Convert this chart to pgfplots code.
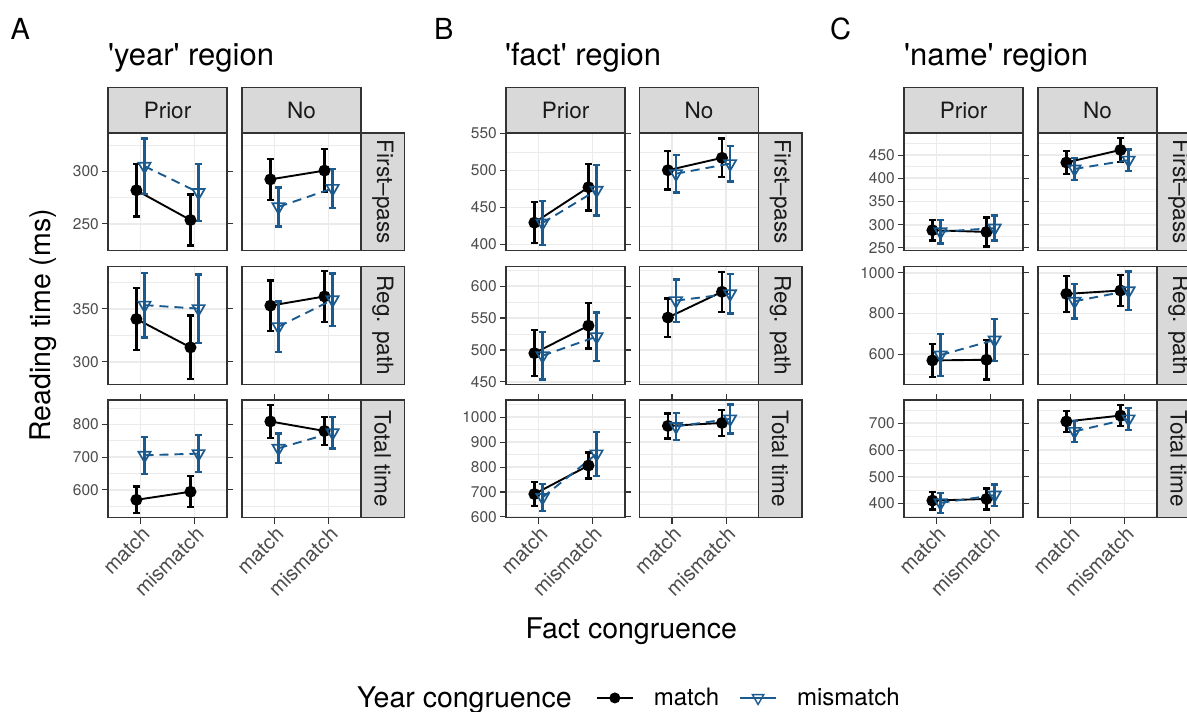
\documentclass[border=0pt]{standalone}
\usepackage{fontspec}
\setmainfont{TeX Gyre Heros}
\usepackage{pgfplots}
\pgfplotsset{compat=1.18}

\definecolor{gray10}{HTML}{1A1A1A}
\definecolor{gray20}{HTML}{333333}
\definecolor{gray30}{HTML}{4D4D4D}
\definecolor{gray85}{HTML}{D9D9D9}
\definecolor{gray92}{HTML}{EBEBEB}
\definecolor{mmblue}{HTML}{1A5A8E}

\newcommand\ytfont{\fontsize{15.5}{18}\selectfont}
\newcommand\xtfont{\fontsize{20.5}{24}\selectfont}
\newcommand\stripfont{\fontsize{22.5}{26}\selectfont}
\newcommand\axtfont{\fontsize{28.5}{33}\selectfont}
\newcommand\titfont{\fontsize{31}{36}\selectfont}
\newcommand\tagfont{\fontsize{29}{34}\selectfont}
\newcommand\legfont{\fontsize{24}{28}\selectfont}

\pgfplotsset{
  facet/.style={
    scale only axis, width=119pt, height=117.5pt, anchor=north west,
    xmin=0.4, xmax=2.6, xtick={1,2}, xmajorticks=false,
    axis line style={draw=gray20, line width=1.2pt},
    tick align=outside, major tick length=6pt, minor tick length=0pt,
    tick style={draw=gray20, line width=1.1pt},
    grid=both,
    major grid style={draw=gray92, line width=1.8pt},
    minor grid style={draw=gray92, line width=0.9pt},
    yticklabel style={font=\ytfont, text=gray30, inner sep=3pt},
    scaled y ticks=false,
    /pgf/number format/assume math mode=true,
    /pgf/number format/1000 sep={},
  },
  nolab/.style={ymajorticks=false},
  bottom/.style={xmajorticks=true, xticklabels={match,mismatch},
    xticklabel style={rotate=45, anchor=north east, font=\xtfont, text=gray30, inner sep=1pt}},
  matchser/.style={black, line width=1.9pt, solid, mark=*, mark size=5pt,
    mark options={solid, fill=black, line width=1.9pt},
    error bars/.cd, y dir=both, y explicit,
    error bar style={black, solid, line width=2.4pt},
    error mark options={rotate=90, black, solid, line width=2.4pt, mark size=3.5pt}},
  mmser/.style={mmblue, line width=1.9pt, dash pattern=on 9pt off 6pt, mark=triangle, mark size=7pt,
    mark options={solid, rotate=180, line width=1.7pt},
    error bars/.cd, y dir=both, y explicit,
    error bar style={mmblue, solid, line width=2.4pt},
    error mark options={rotate=90, mmblue, solid, line width=2.4pt, mark size=3.5pt}},
  matchleg/.style={black, line width=1.9pt, mark=*, mark size=4.5pt, mark options={fill=black}},
  mmleg/.style={mmblue, line width=1.9pt, mark=triangle, mark size=6.5pt, mark options={rotate=180, line width=1.4pt}},
  % y scales, one per region and measure
  A1/.style={ymin=224.6, ymax=336.8, ytick={250,300}, minor ytick={225,275,325}},
  A2/.style={ymin=278.8, ymax=389.8, ytick={300,350}, minor ytick={325,375}},
  A3/.style={ymin=514.8, ymax=874.8, ytick={600,700,800}, minor ytick={550,650,750,850}},
  B1/.style={ymin=392, ymax=550.8, ytick={400,450,500,550}, minor ytick={425,475,525}},
  B2/.style={ymin=446.4, ymax=630.3, ytick={450,500,550,600}, minor ytick={475,525,575,625}},
  B3/.style={ymin=597.6, ymax=1069.8, ytick={600,700,800,900,1000}, minor ytick={650,750,850,950,1050}},
  C1/.style={ymin=244.2, ymax=497.9, ytick={250,300,350,400,450}, minor ytick={275,325,375,425,475}},
  C2/.style={ymin=452.6, ymax=1029.5, ytick={600,800,1000}, minor ytick={500,700,900}},
  C3/.style={ymin=347.6, ymax=787.3, ytick={400,500,600,700}, minor ytick={350,450,550,650,750}},
}

% one facet: options, match series, mismatch series
\newcommand\facet[3]{%
  \begin{axis}[facet,#1]
    \addplot[matchser] coordinates {#2};
    \addplot[mmser] coordinates {#3};
  \end{axis}}

\begin{document}
\begin{tikzpicture}
\useasboundingbox (0pt,0pt) rectangle (1187pt,-712pt);

% ---- A: 'year' region
\facet{A1, at={(108pt,-133pt)}}
  {(0.925,282.1) +- (0,24.9) (1.925,253.7) +- (0,24.3)}
  {(1.075,305.1) +- (0,26.6) (2.075,280) +- (0,27)}
\facet{A1, nolab, at={(242pt,-133pt)}}
  {(0.925,292.5) +- (0,19.4) (1.925,300.9) +- (0,20.5)}
  {(1.075,266.3) +- (0,18.6) (2.075,283.9) +- (0,18.7)}
\facet{A2, at={(108pt,-266.7pt)}}
  {(0.925,340.4) +- (0,29.3) (1.925,313.6) +- (0,30)}
  {(1.075,353.5) +- (0,30.4) (2.075,350.2) +- (0,32.2)}
\facet{A2, nolab, at={(242pt,-266.7pt)}}
  {(0.925,353) +- (0,23.9) (1.925,361.7) +- (0,24.3)}
  {(1.075,333.2) +- (0,23.7) (2.075,358.6) +- (0,24.7)}
\facet{A3, bottom, at={(108pt,-400pt)}}
  {(0.925,569) +- (0,41) (1.925,593.8) +- (0,47.3)}
  {(1.075,705.5) +- (0,56.5) (2.075,710.5) +- (0,56.5)}
\facet{A3, bottom, nolab, at={(242pt,-400pt)}}
  {(0.925,809.1) +- (0,50.3) (1.925,779.9) +- (0,43.6)}
  {(1.075,727.1) +- (0,45.2) (2.075,774.7) +- (0,48.7)}

% ---- B: 'fact' region
\facet{B1, at={(506pt,-133pt)}}
  {(0.925,429.6) +- (0,27.6) (1.925,477.5) +- (0,31.5)}
  {(1.075,429.2) +- (0,29.5) (2.075,473.5) +- (0,34.1)}
\facet{B1, nolab, at={(639.5pt,-133pt)}}
  {(0.925,500.5) +- (0,26.3) (1.925,517.2) +- (0,26.2)}
  {(1.075,495.8) +- (0,25.2) (2.075,509.4) +- (0,24.1)}
\facet{B2, at={(506pt,-266.7pt)}}
  {(0.925,495) +- (0,36) (1.925,538) +- (0,35.8)}
  {(1.075,491) +- (0,37.4) (2.075,520.9) +- (0,37.9)}
\facet{B2, nolab, at={(639.5pt,-266.7pt)}}
  {(0.925,550.7) +- (0,30) (1.925,591) +- (0,31.4)}
  {(1.075,577.2) +- (0,33.2) (2.075,588) +- (0,30.8)}
\facet{B3, bottom, at={(506pt,-400pt)}}
  {(0.925,692) +- (0,48.4) (1.925,806.5) +- (0,52.5)}
  {(1.075,678) +- (0,55) (2.075,853.3) +- (0,88.8)}
\facet{B3, bottom, nolab, at={(639.5pt,-400pt)}}
  {(0.925,965.7) +- (0,50.3) (1.925,977.6) +- (0,51.8)}
  {(1.075,963.5) +- (0,55) (2.075,994) +- (0,58.5)}

% ---- C: 'name' region
\facet{C1, at={(904pt,-133pt)}}
  {(0.925,288) +- (0,22.5) (1.925,284.3) +- (0,31.2)}
  {(1.075,284.8) +- (0,25.8) (2.075,292.6) +- (0,27.2)}
\facet{C1, nolab, at={(1038pt,-133pt)}}
  {(0.925,434.2) +- (0,25) (1.925,461.3) +- (0,25.8)}
  {(1.075,420.3) +- (0,23.9) (2.075,439.3) +- (0,22.9)}
\facet{C2, at={(904pt,-266.7pt)}}
  {(0.925,569.3) +- (0,80.3) (1.925,572.5) +- (0,96.5)}
  {(1.075,595.6) +- (0,103.2) (2.075,670) +- (0,102.5)}
\facet{C2, nolab, at={(1038pt,-266.7pt)}}
  {(0.925,896) +- (0,87.7) (1.925,912.5) +- (0,76.2)}
  {(1.075,860) +- (0,84.3) (2.075,911) +- (0,94.2)}
\facet{C3, bottom, at={(904pt,-400pt)}}
  {(0.925,410.9) +- (0,33) (1.925,417) +- (0,39.4)}
  {(1.075,402.5) +- (0,37.5) (2.075,431.5) +- (0,40)}
\facet{C3, bottom, nolab, at={(1038pt,-400pt)}}
  {(0.925,707) +- (0,38.8) (1.925,729) +- (0,39.3)}
  {(1.075,670) +- (0,38.9) (2.075,716.7) +- (0,41.7)}

% ---- legend
\begin{axis}[hide axis, scale only axis, width=1pt, height=1pt,
  at={(0pt,0pt)}, anchor=south west, xmin=0, xmax=1, ymin=0, ymax=1,
  legend style={at={(596,-698.3)}, anchor=west, draw=none, fill=none,
    legend columns=-1, font=\legfont, column sep=20pt, inner sep=0pt,
    nodes={inner sep=0pt}},
  legend image code/.code={\draw[mark repeat=2, mark phase=2, #1]
    plot coordinates {(0pt,0pt) (18pt,0pt) (36pt,0pt)};}]
  \addlegendimage{matchleg}
  \addlegendentry{match}
  \addlegendimage{mmleg}
  \addlegendentry{mismatch}
\end{axis}

% ---- strips, titles, labels
\begin{scope}[x=1pt, y=-1pt]
  \tikzset{strip/.style={fill=gray85, draw=gray20, line width=1.2pt}}
  \foreach \cx in {108, 506, 904} {
    \draw[strip] (\cx,87.3) rectangle ++(119,45.7);
    \node[font=\stripfont, text=gray10] at (\cx+59.5,110.5) {Prior};
  }
  \foreach \cx in {242, 639.5, 1038} {
    \draw[strip] (\cx,87.3) rectangle ++(119,45.7);
    \node[font=\stripfont, text=gray10] at (\cx+59.5,110.5) {No};
    \foreach \ry/\lab in {133/{First--pass}, 266.7/{Reg. path}, 400/{Total time}} {
      \draw[strip] (\cx+119,\ry) rectangle ++(43.5,117.5);
      \node[font=\stripfont, text=gray10, rotate=-90] at (\cx+140.75,\ry+58.75) {\lab};
    }
  }
  \node[font=\tagfont, anchor=base west, inner sep=0pt] at (10.5,39.3) {A};
  \node[font=\tagfont, anchor=base west, inner sep=0pt] at (434,39.3) {B};
  \node[font=\tagfont, anchor=base west, inner sep=0pt] at (830,39.3) {C};
  \node[font=\titfont, anchor=base west, inner sep=0pt] at (108,65) {\textquotesingle year\textquotesingle{} region};
  \node[font=\titfont, anchor=base west, inner sep=0pt] at (505,65) {\textquotesingle fact\textquotesingle{} region};
  \node[font=\titfont, anchor=base west, inner sep=0pt] at (904,65) {\textquotesingle name\textquotesingle{} region};
  \node[font=\axtfont, rotate=90, anchor=base, inner sep=0pt] at (50,325.5) {Reading time (ms)};
  \node[font=\axtfont, anchor=base, inner sep=0pt] at (631.3,638.3) {Fact congruence};
  \node[font=\axtfont, anchor=base west, inner sep=0pt] at (357,707) {Year congruence};
\end{scope}
\end{tikzpicture}
\end{document}
